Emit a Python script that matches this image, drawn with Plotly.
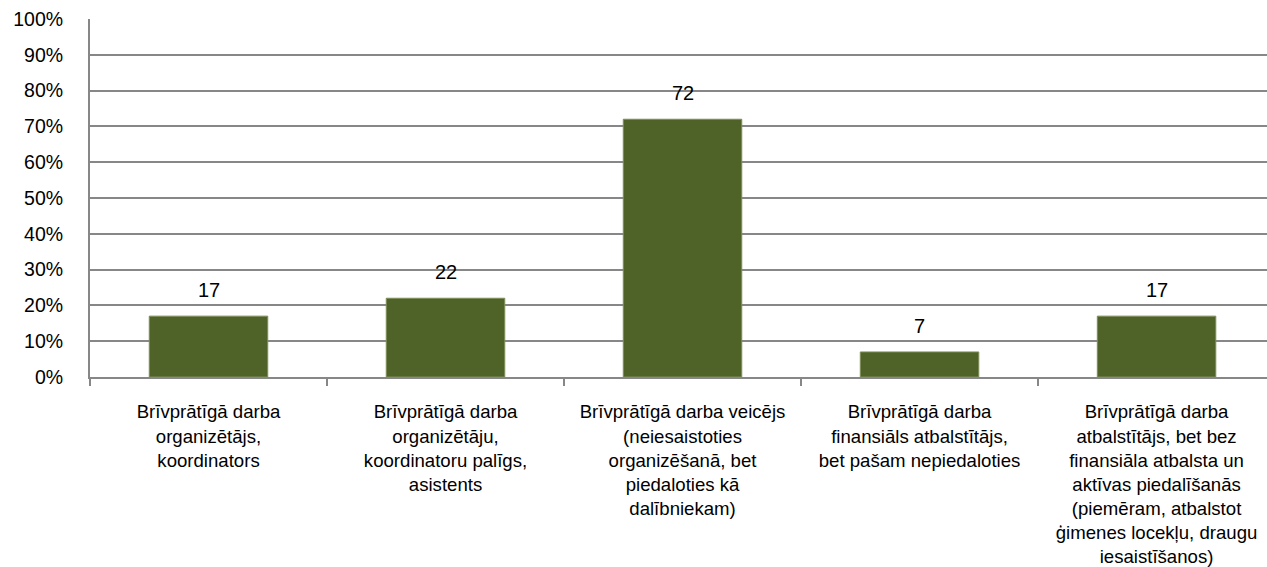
import plotly.graph_objects as go

categories = [
    "Brīvprātīgā darba<br>organizētājs,<br>koordinators",
    "Brīvprātīgā darba<br>organizētāju,<br>koordinatoru palīgs,<br>asistents",
    "Brīvprātīgā darba veicējs<br>(neiesaistoties<br>organizēšanā, bet<br>piedaloties kā<br>dalībniekam)",
    "Brīvprātīgā darba<br>finansiāls atbalstītājs,<br>bet pašam nepiedaloties",
    "Brīvprātīgā darba<br>atbalstītājs, bet bez<br>finansiāla atbalsta un<br>aktīvas piedalīšanās<br>(piemēram, atbalstot<br>ģimenes locekļu, draugu<br>iesaistīšanos)",
]
values = [17, 22, 72, 7, 17]
y_ticks = [0, 10, 20, 30, 40, 50, 60, 70, 80, 90, 100]
y_ticktext = [f"{t}%" for t in y_ticks]

FONT = "Liberation Sans, Arial, sans-serif"
GRID = "#878787"

fig = go.Figure(
    go.Bar(
        x=list(range(len(categories))),
        y=values,
        marker=dict(color="#4F6228", line=dict(color="#7D8F5A", width=1)),
        hoverinfo="skip",
    )
)

# value labels above each bar
for i, v in enumerate(values):
    fig.add_annotation(
        x=i, y=v, text=str(v), showarrow=False,
        yanchor="bottom", yshift=13,
        font=dict(family=FONT, size=20, color="#000000"),
    )

fig.update_layout(
    width=1267, height=567,
    margin=dict(l=90, r=0, t=19, b=190, autoexpand=False),
    paper_bgcolor="white", plot_bgcolor="white",
    bargap=0.5, showlegend=False,
    font=dict(family=FONT, size=20, color="#000000"),
)
fig.update_xaxes(
    type="linear",
    range=[-0.5, 4.466],
    tickmode="array",
    tickvals=list(range(len(categories))),
    ticktext=categories,
    ticks="", showgrid=False, zeroline=False,
    showline=True, linecolor=GRID, linewidth=2,
    tickfont=dict(family=FONT, size=18.6, color="#000000"),
    ticklabelstandoff=17, automargin=False,
    # tick marks on the category boundaries
    minor=dict(ticks="outside", tickmode="linear", tick0=-0.5, dtick=1,
               ticklen=7, tickwidth=2, tickcolor=GRID, showgrid=False),
)
fig.update_yaxes(
    range=[0, 100],
    tickmode="array", tickvals=y_ticks, ticktext=y_ticktext,
    showgrid=True, gridcolor=GRID, gridwidth=1.6,
    zeroline=False, showline=True, linecolor=GRID, linewidth=2,
    ticks="", ticklabelstandoff=21, automargin=False,
    tickfont=dict(family=FONT, size=19.5, color="#000000"),
)

fig.write_html("out.html")
